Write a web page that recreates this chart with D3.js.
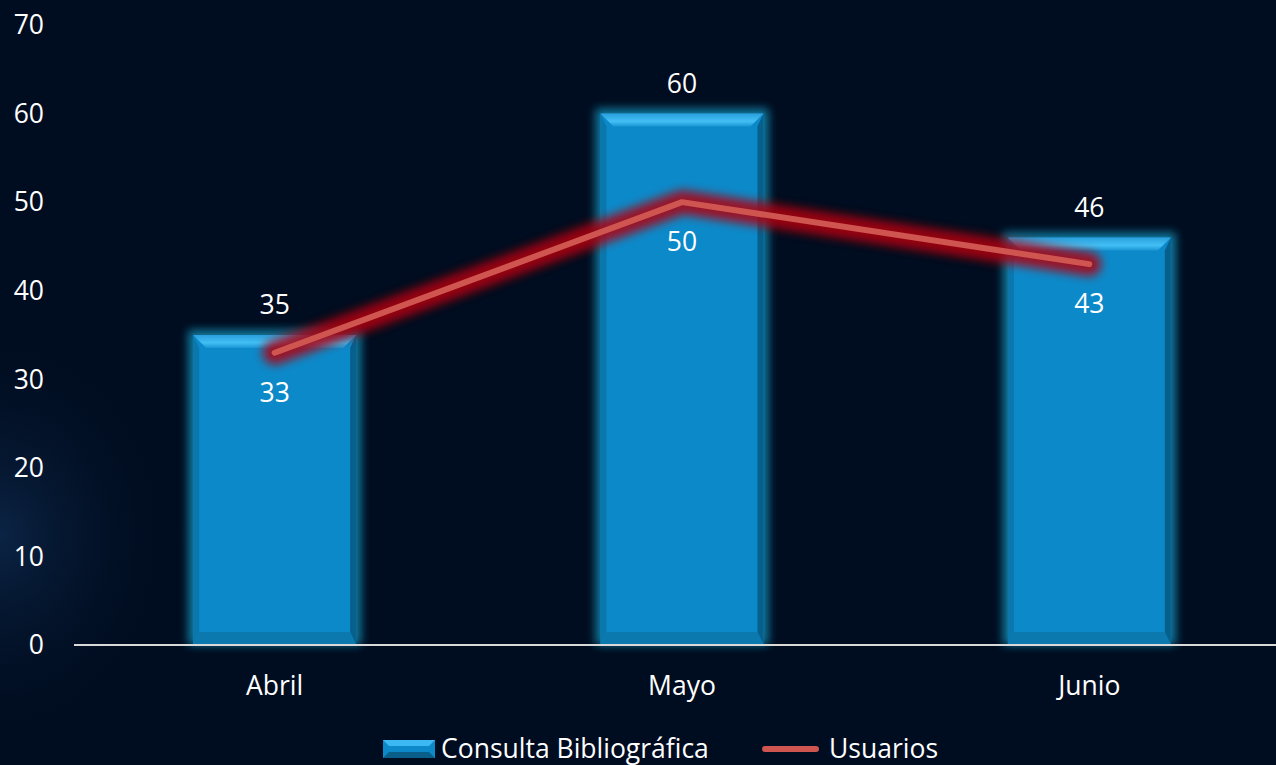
<!DOCTYPE html>
<meta charset="utf-8">
<script src="https://d3js.org/d3.v7.min.js"></script>
<style>
  body { margin: 0; background: #000d20; overflow: hidden; }
  text { font-family: "Open Sans", sans-serif; fill: #ffffff; }
</style>
<div id="chart"></div>
<script>
    // data
    var months = ["Abril", "Mayo", "Junio"];
    var consultas = [35, 60, 46];
    var usuarios = [33, 50, 43];
    var yTicks = [0, 10, 20, 30, 40, 50, 60, 70];
    var seriesNames = ["Consulta Bibliográfica", "Usuarios"];

    var W = 1276, H = 765;
    var margin = {top: 25, right: -17, bottom: 120, left: 71};
    var fs = "26.5px";

    var svg = d3.select("#chart").append("svg")
        .attr("width", W).attr("height", H);

    var defs = svg.append("defs");
    var bg = defs.append("radialGradient").attr("id", "bgGlow")
        .attr("cx", 0).attr("cy", 0.7).attr("r", 0.3)
        .attr("gradientTransform", "scale(0.5,1)");
    bg.append("stop").attr("offset", "0%").attr("stop-color", "#0e2a4e").attr("stop-opacity", 0.8);
    bg.append("stop").attr("offset", "100%").attr("stop-color", "#000d20").attr("stop-opacity", 0);

    var topGrad = defs.append("linearGradient").attr("id", "topBev")
        .attr("x1", 0).attr("x2", 0).attr("y1", 0).attr("y2", 1);
    topGrad.append("stop").attr("offset", "0%").attr("stop-color", "#2a9fdc");
    topGrad.append("stop").attr("offset", "60%").attr("stop-color", "#42bff5");
    topGrad.append("stop").attr("offset", "100%").attr("stop-color", "#1a95d4");

    defs.append("filter").attr("id", "blurBar")
        .attr("x", "-20%").attr("y", "-20%").attr("width", "140%").attr("height", "140%")
      .append("feGaussianBlur").attr("stdDeviation", 5);
    defs.append("filter").attr("id", "blurLine")
        .attr("x", "-20%").attr("y", "-50%").attr("width", "140%").attr("height", "200%")
      .append("feGaussianBlur").attr("stdDeviation", 5);

    svg.append("rect").attr("width", W).attr("height", H).attr("fill", "#000c1f");
    svg.append("rect").attr("width", W).attr("height", H).attr("fill", "url(#bgGlow)");

    var x = d3.scaleBand()
        .domain(months)
        .range([margin.left, W - margin.right])
        .paddingInner(0.6)
        .paddingOuter(0.3);

    var y = d3.scaleLinear()
        .domain([0, 70])
        .range([645, margin.top]);

    // y axis labels
    svg.append("g").selectAll("text")
        .data(yTicks).enter().append("text")
        .attr("x", 44).attr("y", function(d) { return y(d); })
        .attr("dy", "0.35em")
        .attr("text-anchor", "end")
        .style("font-size", fs)
        .text(function(d) { return d; });

    // bars
    var bw = x.bandwidth(), bev = 13;
    var bars = svg.append("g").selectAll("g")
        .data(consultas).enter().append("g")
        .attr("transform", function(d, i) { return "translate(" + x(months[i]) + "," + y(d) + ")"; });

    bars.append("rect")
        .attr("x", -5).attr("y", -5)
        .attr("width", bw + 10)
        .attr("height", function(d) { return y(0) - y(d) + 5; })
        .attr("fill", "#1596bf").attr("opacity", 0.8)
        .attr("filter", "url(#blurBar)");
    bars.append("rect")
        .attr("width", bw)
        .attr("height", function(d) { return y(0) - y(d); })
        .attr("fill", "#0c89c9");
    // top bevel
    bars.append("path")
        .attr("d", "M0,0H" + bw + "L" + (bw - bev) + "," + bev + "H" + bev + "Z")
        .attr("fill", "url(#topBev)");
    // side bevels
    bars.append("path")
        .attr("d", function(d) { var h = y(0) - y(d); return "M0,0L6," + bev + "V" + (h - bev) + "L0," + h + "Z"; })
        .attr("fill", "#0b77ad");
    bars.append("path")
        .attr("d", function(d) { var h = y(0) - y(d); return "M" + bw + ",0L" + (bw - 6) + "," + bev + "V" + (h - bev) + "L" + bw + "," + h + "Z"; })
        .attr("fill", "#075f8c");
    // bottom bevel
    bars.append("path")
        .attr("d", function(d) { var h = y(0) - y(d); return "M0," + h + "L6," + (h - bev) + "H" + (bw - 6) + "L" + bw + "," + h + "Z"; })
        .attr("fill", "#0b78ae");

    // axis line
    svg.append("line")
        .attr("x1", 74).attr("x2", W)
        .attr("y1", y(0)).attr("y2", y(0))
        .attr("stroke", "#d9d9d9").attr("stroke-width", 2);

    // x labels
    svg.append("g").selectAll("text")
        .data(months).enter().append("text")
        .attr("x", function(d) { return x(d) + bw / 2; })
        .attr("y", 686).attr("dy", "0.35em")
        .attr("text-anchor", "middle")
        .style("font-size", fs)
        .text(function(d) { return d; });

    // bar value labels
    svg.append("g").selectAll("text")
        .data(consultas).enter().append("text")
        .attr("x", function(d, i) { return x(months[i]) + bw / 2; })
        .attr("y", function(d) { return y(d) - 30; }).attr("dy", "0.35em")
        .attr("text-anchor", "middle")
        .style("font-size", fs)
        .text(function(d) { return d; });

    // line series
    var line = d3.line()
        .x(function(d, i) { return x(months[i]) + bw / 2; })
        .y(function(d) { return y(d); });

    svg.append("path").datum(usuarios)
        .attr("d", line).attr("fill", "none")
        .attr("stroke", "#b0000e").attr("stroke-width", 24)
        .attr("stroke-linecap", "round").attr("stroke-linejoin", "round")
        .attr("opacity", 0.85)
        .attr("filter", "url(#blurLine)");
    svg.append("path").datum(usuarios)
        .attr("d", line).attr("fill", "none")
        .attr("stroke", "#cf5550").attr("stroke-width", 6)
        .attr("stroke-linecap", "round").attr("stroke-linejoin", "round");

    svg.append("g").selectAll("text")
        .data(usuarios).enter().append("text")
        .attr("x", function(d, i) { return x(months[i]) + bw / 2; })
        .attr("y", function(d) { return y(d) + 40; }).attr("dy", "0.35em")
        .attr("text-anchor", "middle")
        .style("font-size", fs)
        .text(function(d) { return d; });

    // legend
    var lg = svg.append("g");
    var ix = 383, iy = 740, iw = 52, ih = 18, ib = 6;
    lg.append("rect").attr("x", ix).attr("y", iy).attr("width", iw).attr("height", ih).attr("fill", "#0c89c9");
    lg.append("path").attr("d", "M" + ix + "," + iy + "H" + (ix + iw) + "L" + (ix + iw - ib) + "," + (iy + ib) + "H" + (ix + ib) + "Z").attr("fill", "#3cb8f2");
    lg.append("path").attr("d", "M" + ix + "," + (iy + ih) + "H" + (ix + iw) + "L" + (ix + iw - ib) + "," + (iy + ih - ib) + "H" + (ix + ib) + "Z").attr("fill", "#0a5f8a");
    lg.append("text").attr("x", 441).attr("y", 749).attr("dy", "0.35em")
        .style("font-size", fs).text(seriesNames[0]);
    lg.append("line").attr("x1", 765).attr("x2", 816).attr("y1", 749).attr("y2", 749)
        .attr("stroke", "#cf5550").attr("stroke-width", 6).attr("stroke-linecap", "round");
    lg.append("text").attr("x", 829).attr("y", 749).attr("dy", "0.35em")
        .style("font-size", fs).text(seriesNames[1]);
</script>
